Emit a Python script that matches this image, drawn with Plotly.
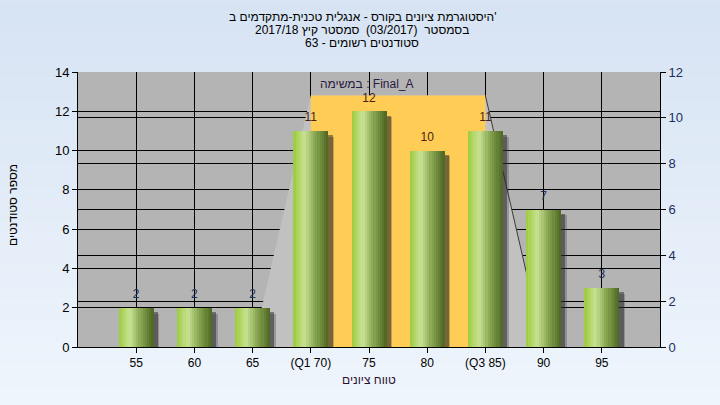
import plotly.graph_objects as go

# ---- data ----
categories = ["55", "60", "65", "(Q1 70)", "75", "80", "(Q3 85)", "90", "95"]
counts = [2, 2, 2, 11, 12, 10, 11, 7, 3]
q1_cat = "(Q1 70)"
q3_cat = "(Q3 85)"
box_left_foot = "65"
box_right_foot = "90"
box_height = 12.8
left_ticks = [0, 2, 4, 6, 8, 10, 12, 14]
right_ticks = [0, 2, 4, 6, 8, 10, 12]
title_lines = [
    "היסטוגרמת ציונים בקורס - אנגלית טכנית-מתקדמים ב'",
    "בסמסטר  (03/2017)  סמסטר קיץ 2017/18",
    "סטודנטים רשומים - 63",
]
task_label = "במשימה : Final_A"
x_title = "טווח ציונים"
y_title = "מספר סטודנטים"

FONT = "Liberation Sans, Arial, sans-serif"
W, H = 720, 405
ML, MR, MT, MB = 78, 60, 72, 58
PH = H - MT - MB
PW = W - ML - MR


def py(pix):
    """pixel row -> paper y (plot-area based)"""
    return (H - MB - pix) / PH


def px(pix):
    return (pix - ML) / PW


fig = go.Figure()

# bar shadows
BW = 0.6
for dx, dyb, col in [(0.10, -0.3, "rgba(50,50,50,0.28)"), (0.075, -0.22, "rgba(40,40,40,0.5)")]:
    fig.add_trace(go.Bar(
        x=categories, y=counts, base=dyb, width=BW, offset=-BW / 2 + dx,
        marker=dict(color=col, line=dict(width=0)),
        hoverinfo="skip", showlegend=False))

# cylindrical gradient bars built from vertical strips
stops = [(0.0, (157, 203, 62)), (0.32, (201, 226, 148)), (0.6, (140, 170, 85)), (1.0, (76, 102, 32))]


def grad(t):
    for (t0, c0), (t1, c1) in zip(stops[:-1], stops[1:]):
        if t0 <= t <= t1:
            f = (t - t0) / (t1 - t0)
            return "rgb(%d,%d,%d)" % tuple(round(a + (b - a) * f) for a, b in zip(c0, c1))
    return "rgb(%d,%d,%d)" % stops[-1][1]


N = 16
sw = BW / N
for i in range(N):
    fig.add_trace(go.Bar(
        x=categories, y=counts, width=sw * 1.08, offset=-BW / 2 + i * sw,
        marker=dict(color=grad((i + 0.5) / N), line=dict(width=0)),
        hoverinfo="skip", showlegend=False))

# value labels
label_colors = ["#1d2f5c" if c < 9 else "#4a1e14" for c in counts]
fig.add_trace(go.Scatter(
    x=categories, y=counts, mode="markers+text", text=[str(c) for c in counts],
    textposition="top center", marker=dict(size=9, opacity=0),
    textfont=dict(family=FONT, size=12, color=label_colors),
    hoverinfo="skip", showlegend=False))

# right axis carrier
fig.add_trace(go.Scatter(x=[categories[0]], y=[0], yaxis="y2", mode="markers",
                         marker=dict(opacity=0), hoverinfo="skip", showlegend=False))

# background gradient bands
shapes = []
nb = 40
top = (214, 227, 243)
bot = (240, 246, 253)
for k in range(nb):
    f = k / (nb - 1)
    col = "rgb(%d,%d,%d)" % tuple(round(a + (b - a) * f) for a, b in zip(top, bot))
    shapes.append(dict(type="rect", xref="paper", yref="paper", layer="below",
                       x0=-0.2, x1=1.2, y0=1.3 - (k + 1) * 1.6 / nb, y1=1.3 - k * 1.6 / nb,
                       fillcolor=col, line=dict(width=0)))
shapes.append(dict(type="rect", xref="x domain", yref="y domain", layer="below",
                   x0=0, x1=1, y0=0, y1=1, fillcolor="#B4B4B4", line=dict(width=0)))

# interquartile trapezoid, placed on the category axis
iL = categories.index(box_left_foot)
i1 = categories.index(q1_cat)
i3 = categories.index(q3_cat)
iR = categories.index(box_right_foot)
shapes.append(dict(type="path", xref="x", yref="y", layer="between",
                   path=f"M {iL} 0 L {i1} {box_height} L {i3} {box_height} L {iR} 0 Z",
                   fillcolor="#C1C1C1", line=dict(width=0)))
shapes.append(dict(type="rect", xref="x", yref="y", layer="between",
                   x0=i1, x1=i3, y0=0, y1=box_height,
                   fillcolor="#FFCC55", line=dict(width=0)))
shapes.append(dict(type="line", xref="x", yref="y", layer="between",
                   x0=i3, y0=box_height, x1=iR, y1=0,
                   line=dict(color="#3a3a3a", width=1)))

annotations = []
for k, line in enumerate(title_lines):
    annotations.append(dict(text=line, xref="paper", yref="paper", x=px(362),
                            y=py(17 + 13 * k), showarrow=False, xanchor="center", yanchor="middle",
                            font=dict(family=FONT, size=12, color="#000000")))
annotations.append(dict(text=task_label, xref="paper", yref="paper", x=px(367), y=py(84),
                        showarrow=False, xanchor="center", yanchor="middle",
                        font=dict(family=FONT, size=12, color="#2b1a3f")))
annotations.append(dict(text=x_title, xref="paper", yref="paper", x=px(369), y=py(380),
                        showarrow=False, xanchor="center", yanchor="middle",
                        font=dict(family=FONT, size=12, color="#2b0f2f")))
annotations.append(dict(text=y_title, xref="paper", yref="paper", x=px(13),
                        y=py(205), textangle=-90, showarrow=False, xanchor="center", yanchor="middle",
                        font=dict(family=FONT, size=12, color="#000000")))

fig.update_layout(
    width=W, height=H,
    margin=dict(l=ML, r=MR, t=MT, b=MB, autoexpand=False),
    paper_bgcolor="#E3ECF7", plot_bgcolor="#B4B4B4",
    barmode="overlay", bargap=0,
    font=dict(family=FONT, size=12, color="#000000"),
    shapes=shapes,
    annotations=annotations,
    xaxis=dict(type="category", range=[-1, len(categories)], categoryorder="array",
               categoryarray=categories, automargin=False,
               showgrid=True, gridcolor="#000000", gridwidth=1,
               showline=True, linecolor="#000000", linewidth=1,
               ticks="outside", ticklen=5, tickcolor="#000000",
               tickfont=dict(family=FONT, size=12, color="#000000"),
               zeroline=False, fixedrange=True),
    yaxis=dict(range=[0, 14], tickvals=left_ticks, automargin=False,
               showgrid=True, gridcolor="#000000", gridwidth=1,
               showline=True, linecolor="#000000", linewidth=1,
               ticks="outside", ticklen=5, tickcolor="#000000",
               tickfont=dict(family=FONT, size=13, color="#000000"),
               zeroline=False, fixedrange=True),
    yaxis2=dict(range=[0, 12], tickvals=right_ticks, overlaying="y", side="right",
                automargin=False,
                showgrid=True, gridcolor="#000000", gridwidth=1,
                showline=True, linecolor="#000000", linewidth=1,
                ticks="outside", ticklen=5, tickcolor="#000000",
                tickfont=dict(family=FONT, size=13, color="#1d2f5c"),
                zeroline=False, fixedrange=True),
)

fig.write_html("out.html", config={"displayModeBar": False},
               post_script="document.body.style.margin='0';")
